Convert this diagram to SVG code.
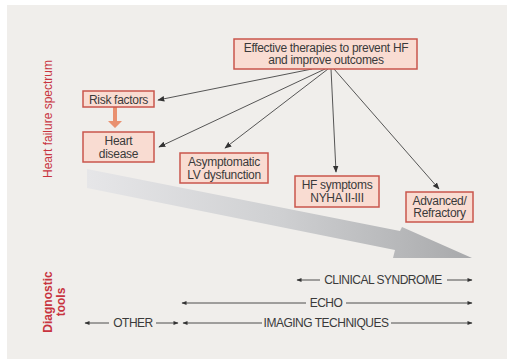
<svg xmlns="http://www.w3.org/2000/svg" width="509" height="363" viewBox="0 0 509 363">
<defs>
<style>
.box{fill:#f9dcd2;stroke:#c9564c;stroke-width:1.5}
.t{font-family:"Liberation Sans",Arial,sans-serif;font-size:12px;fill:#3a3a3a;text-anchor:middle;letter-spacing:-0.3px}
.bt{font-family:"Liberation Sans",Arial,sans-serif;font-size:12px;fill:#3a3a3a;text-anchor:middle;letter-spacing:-0.5px}
.side{font-family:"Liberation Sans",Arial,sans-serif;font-size:12px;fill:#c8343f;text-anchor:middle}
.c{stroke:#444;stroke-width:0.9;fill:none;marker-end:url(#ah)}
.b{stroke:#3a3a3a;stroke-width:0.9;fill:none;marker-end:url(#sh)}
</style>
<marker id="ah" viewBox="0 0 10 10" refX="9" refY="5" markerWidth="7" markerHeight="7" orient="auto" markerUnits="userSpaceOnUse"><path d="M0,1 L10,5 L0,9 z" fill="#333"/></marker>
<marker id="sh" viewBox="0 0 10 10" refX="9" refY="5" markerWidth="6" markerHeight="5" orient="auto" markerUnits="userSpaceOnUse"><path d="M0,1 L10,5 L0,9 z" fill="#333"/></marker>
<linearGradient id="g" x1="87" y1="0" x2="472" y2="0" gradientUnits="userSpaceOnUse"><stop offset="0" stop-color="#e6e6e8"/><stop offset="0.5" stop-color="#cfd0d2"/><stop offset="1" stop-color="#a8a9ab"/></linearGradient>
</defs>
<rect x="0" y="0" width="509" height="363" fill="#ffffff"/>
<rect x="7" y="5" width="500" height="354" fill="#f0eeeb"/>
<polygon id="spectrum-arrow" points="87,169 400,231 402,227 472,258 393,258 395,250 87,188" fill="url(#g)"/>
<text class="side" transform="translate(52,119) rotate(-90)">Heart failure spectrum</text>
<g transform="translate(52,302) rotate(-90)"><text class="side" y="0" font-weight="bold">Diagnostic</text><text class="side" y="13" font-weight="bold">tools</text></g>
<g id="connectors">
<line class="c" x1="312" y1="69" x2="158" y2="100"/>
<line class="c" x1="325" y1="69" x2="159" y2="147"/>
<line class="c" x1="328" y1="69" x2="225" y2="148"/>
<line class="c" x1="331" y1="69" x2="336" y2="172"/>
<line class="c" x1="334" y1="69" x2="439" y2="189"/>
<path d="M113,107 H117 V121 H122 L115,128 L108,121 H113 z" fill="#e9906f"/>
</g>
<g id="therapies"><rect class="box" x="234" y="39" width="183" height="30"/><text class="t" x="326" y="51.5">Effective therapies to prevent HF</text><text class="t" x="326" y="64">and improve outcomes</text></g>
<g id="risk"><rect class="box" x="83" y="91" width="71" height="16"/><text class="t" x="118.5" y="103.5">Risk factors</text></g>
<g id="heart"><rect class="box" x="83" y="132" width="71" height="30"/><text class="t" x="118.5" y="145">Heart</text><text class="t" x="118.5" y="157.5">disease</text></g>
<g id="asym"><rect class="box" x="180" y="153" width="88" height="30"/><text class="t" x="224" y="165.5">Asymptomatic</text><text class="t" x="224" y="178.5">LV dysfunction</text></g>
<g id="hf"><rect class="box" x="295" y="176" width="84" height="31"/><text class="t" x="337" y="188.5">HF symptoms</text><text class="t" x="337" y="202">NYHA II-III</text></g>
<g id="adv"><rect class="box" x="406" y="192" width="67" height="30"/><text class="t" x="439.5" y="204.5">Advanced/</text><text class="t" x="439.5" y="217">Refractory</text></g>
<g id="tools">
<line class="b" x1="320" y1="280" x2="297" y2="280"/><line class="b" x1="447" y1="280" x2="472" y2="280"/><text class="bt" x="383" y="284">CLINICAL SYNDROME</text>
<line class="b" x1="306" y1="303" x2="182" y2="303"/><line class="b" x1="346" y1="303" x2="472" y2="303"/><text class="bt" x="326" y="307">ECHO</text>
<line class="b" x1="109" y1="323" x2="85" y2="323"/><line class="b" x1="156" y1="323" x2="178" y2="323"/><text class="bt" x="133" y="327">OTHER</text>
<line class="b" x1="262" y1="323" x2="183" y2="323"/><line class="b" x1="391" y1="323" x2="472" y2="323"/><text class="bt" x="326" y="327">IMAGING TECHNIQUES</text>
</g>
</svg>
